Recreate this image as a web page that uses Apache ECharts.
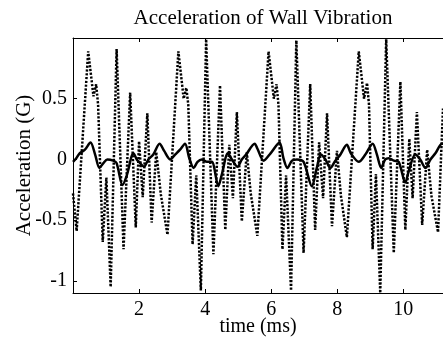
<!DOCTYPE html>
<html>
<head>
    <meta charset="UTF-8">
    <title>Acceleration of Wall Vibration</title>
    <script src="https://cdn.jsdelivr.net/npm/echarts@6/dist/echarts.min.js"></script>
    <style>
        html, body { margin: 0; padding: 0; background: #fff; }
        #chart { width: 443px; height: 339px; }
    </style>
</head>
<body>
    <div id="chart"></div>
    <script>
        // time (ms), acceleration (G)
        var wallDotted = [
            [0.00,-0.28],[0.11,-0.59],[0.46,0.89],[0.62,0.52],[0.70,0.62],[0.76,0.45],[0.90,-0.68],
            [1.01,-0.15],[1.14,-1.05],[1.32,0.91],[1.53,-0.74],[1.73,0.55],[1.90,-0.56],[2.00,0.15],
            [2.11,-0.31],[2.25,0.38],[2.38,-0.52],[2.52,0.06],[2.66,-0.29],
            [2.86,-0.62],[3.19,0.89],[3.35,0.50],[3.43,0.59],[3.49,0.45],[3.62,-0.70],[3.73,-0.13],
            [3.87,-1.08],[4.03,0.99],[4.25,-0.78],[4.45,0.61],[4.61,-0.58],[4.73,0.12],[4.84,-0.32],
            [4.96,0.39],[5.11,-0.51],[5.26,0.06],[5.38,-0.28],
            [5.58,-0.63],[5.92,0.89],[6.08,0.50],[6.16,0.62],[6.22,0.45],[6.34,-0.74],[6.45,-0.13],
            [6.60,-1.08],[6.76,0.98],[6.98,-0.77],[7.18,0.62],[7.33,-0.58],[7.45,0.14],[7.57,-0.32],
            [7.69,0.38],[7.84,-0.55],[7.99,0.07],[8.11,-0.30],
            [8.29,-0.64],[8.65,0.89],[8.81,0.50],[8.90,0.63],[8.96,0.45],[9.07,-0.74],[9.17,-0.12],
            [9.30,-1.10],[9.48,0.99],[9.71,-0.77],[9.91,0.64],[10.06,-0.58],[10.18,0.17],[10.28,-0.32],
            [10.41,0.39],[10.57,-0.54],[10.72,0.08],[10.85,-0.30],[11.05,-0.60],[11.20,0.42]
        ];
        var wallSolid = [
            [0.00,-0.02],[0.10,0.01],[0.20,0.05],[0.36,0.08],[0.53,0.14],[0.67,0.04],[0.80,-0.07],
            [0.92,-0.03],[1.04,0.00],[1.22,-0.01],[1.32,-0.03],[1.50,-0.21],[1.63,-0.13],[1.83,0.05],
            [1.93,0.00],[2.03,-0.03],[2.15,-0.06],[2.28,0.00],[2.43,0.04],[2.62,0.13],[2.76,0.07],
            [2.94,0.00],[3.09,0.04],[3.24,0.08],[3.39,0.13],[3.52,0.01],[3.65,-0.07],[3.77,-0.02],
            [3.90,0.00],[4.05,-0.02],[4.20,-0.02],[4.40,-0.22],[4.50,-0.13],[4.69,0.05],[4.81,0.00],
            [4.98,-0.06],[5.11,0.00],[5.24,0.04],[5.50,0.13],[5.58,0.09],[5.77,-0.01],[5.98,0.05],
            [6.25,0.14],[6.37,0.01],[6.49,-0.07],[6.63,-0.01],[6.78,0.00],[6.98,-0.02],[7.23,-0.22],
            [7.38,-0.07],[7.50,0.04],[7.64,0.00],[7.79,-0.07],[7.94,-0.01],[8.07,0.03],[8.29,0.12],
            [8.41,0.05],[8.65,-0.02],[8.85,0.04],[9.07,0.13],[9.20,0.04],[9.33,-0.07],[9.45,0.00],
            [9.56,0.01],[9.71,-0.01],[9.86,-0.02],[10.06,-0.19],[10.16,-0.10],[10.36,0.04],[10.51,0.00],
            [10.67,-0.07],[10.82,0.00],[10.97,0.05],[11.17,0.13],[11.20,0.13]
        ];
        var xTicks = [2, 4, 6, 8, 10];
        var yTicks = [-1, -0.5, 0, 0.5];

        var serif = 'Liberation Serif';
        var chart = echarts.init(document.getElementById('chart'), null, {renderer: 'canvas'});

        chart.setOption({
            animation: false,
            backgroundColor: '#fff',
            title: {
                text: 'Acceleration of Wall Vibration',
                left: 258,
                textAlign: 'center',
                top: 3,
                textStyle: {fontFamily: serif, fontSize: 21, fontWeight: 'normal', color: '#000'}
            },
            grid: {left: 73, right: 0, top: 38, bottom: 46, outerBoundsMode: 'none'},
            xAxis: [{
                type: 'value',
                min: 0,
                max: 11.2,
                name: 'time (ms)',
                nameLocation: 'middle',
                nameGap: 24,
                nameMoveOverlap: false,
                nameTextStyle: {fontFamily: serif, fontSize: 20, color: '#000'},
                axisLine: {onZero: false, lineStyle: {color: '#000', width: 1}},
                axisTick: {inside: true, length: 4, customValues: xTicks, lineStyle: {color: '#000'}},
                axisLabel: {customValues: xTicks, margin: 7, fontFamily: serif, fontSize: 20, color: '#000'},
                splitLine: {show: false}
            }, {
                type: 'value',
                position: 'top',
                min: 0,
                max: 11.2,
                axisLine: {onZero: false, lineStyle: {color: '#000', width: 1}},
                axisTick: {inside: true, length: 4, customValues: xTicks, lineStyle: {color: '#000'}},
                axisLabel: {show: false},
                splitLine: {show: false}
            }],
            yAxis: {
                type: 'value',
                min: -1.1,
                max: 1.0,
                name: 'Acceleration (G)',
                nameLocation: 'middle',
                nameGap: 38,
                nameMoveOverlap: false,
                nameTextStyle: {fontFamily: serif, fontSize: 21, color: '#000'},
                axisLine: {show: true, lineStyle: {color: '#000', width: 1}},
                axisTick: {show: true, inside: true, length: 4, customValues: yTicks, lineStyle: {color: '#000'}},
                axisLabel: {customValues: yTicks, margin: 6, fontFamily: serif, fontSize: 20, color: '#000'},
                splitLine: {show: false}
            },
            series: [{
                type: 'line',
                data: wallDotted,
                showSymbol: false,
                lineStyle: {color: '#000', width: 2.5, type: [2.2, 1.6]}
            }, {
                type: 'line',
                data: wallSolid,
                showSymbol: false,
                smooth: 0.3,
                lineStyle: {color: '#000', width: 2.5}
            }]
        });
    </script>
</body>
</html>
